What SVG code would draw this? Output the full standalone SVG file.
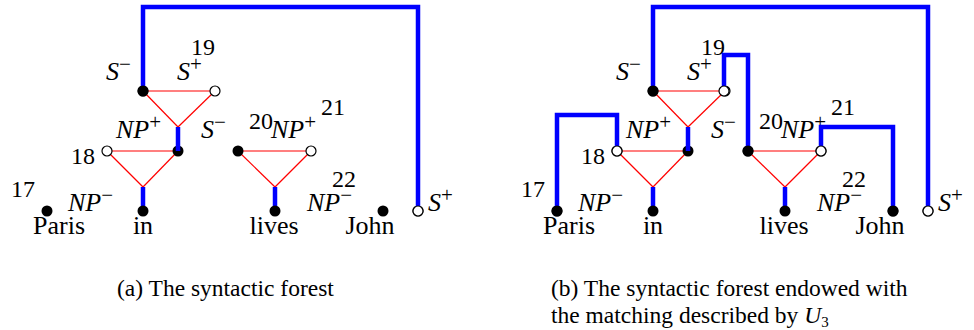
<svg xmlns="http://www.w3.org/2000/svg" width="974" height="330" viewBox="0 0 974 330">
<style>
.bg{fill:#fff}
.red{stroke:#ff0000;stroke-width:1.2;fill:none}
.blue{stroke:#0000ff;stroke-width:4.5;fill:none;stroke-linejoin:miter;stroke-linecap:butt}
.f{fill:#000}
.o{fill:#fff;stroke:#000;stroke-width:1.2}
text{font-family:"Liberation Serif","Times New Roman",serif;fill:#000}
.w{font-size:26px}
.n{font-size:24px}
.i{font-size:26px;font-style:italic}
.sup{font-size:21px;font-style:normal}
.cap{font-size:23.5px}
</style>
<rect class="bg" x="0" y="0" width="974" height="330"/>
<defs>
<g id="forest">
  <g id="t-in">
    <line class="red" x1="107" y1="151" x2="178" y2="151"/>
    <line class="red" x1="107" y1="151" x2="143" y2="187"/>
    <line class="red" x1="178" y1="151" x2="143" y2="187"/>
    <line class="blue" x1="143" y1="187" x2="143" y2="211"/>
    <circle class="o" cx="107" cy="151" r="5"/>
    <circle class="f" cx="178" cy="151" r="5.5"/>
    <circle class="f" cx="143" cy="211" r="5.5"/>
  </g>
  <g id="t-top">
    <line class="red" x1="143" y1="91" x2="215" y2="91"/>
    <line class="red" x1="143" y1="91" x2="178" y2="127"/>
    <line class="red" x1="215" y1="91" x2="178" y2="127"/>
    <line class="blue" x1="178" y1="127" x2="178" y2="151"/>
    <circle class="f" cx="143" cy="91" r="5.5"/>
    <circle class="o" cx="215" cy="91" r="5"/>
  </g>
  <g id="t-lives">
    <line class="red" x1="238" y1="151" x2="311" y2="151"/>
    <line class="red" x1="238" y1="151" x2="275" y2="187"/>
    <line class="red" x1="311" y1="151" x2="275" y2="187"/>
    <line class="blue" x1="275" y1="187" x2="275" y2="211"/>
    <circle class="f" cx="238" cy="151" r="5.5"/>
    <circle class="o" cx="311" cy="151" r="5"/>
    <circle class="f" cx="275" cy="211" r="5.5"/>
  </g>
  <circle class="f" cx="47" cy="211" r="5.5"/>
  <circle class="f" cx="383" cy="211" r="5.5"/>
  <circle class="o" cx="418" cy="211" r="5"/>
  <text class="n" x="11" y="197">17</text>
  <text class="w" x="33" y="234">Paris</text>
  <text class="w" x="143" y="234" text-anchor="middle">in</text>
  <text class="w" x="274" y="234" text-anchor="middle">lives</text>
  <text class="w" x="370" y="234" text-anchor="middle">John</text>
  <text class="i" x="68" y="211">NP<tspan class="sup" dy="-9">−</tspan></text>
  <text class="n" x="71" y="164">18</text>
  <text class="i" x="116" y="138">NP<tspan class="sup" dy="-9">+</tspan></text>
  <text class="i" x="106" y="80">S<tspan class="sup" dy="-9">−</tspan></text>
  <text class="n" x="191" y="55">19</text>
  <text class="i" x="177" y="80">S<tspan class="sup" dy="-9">+</tspan></text>
  <text class="i" x="201" y="138">S<tspan class="sup" dy="-9">−</tspan></text>
  <text class="n" x="249" y="129">20</text>
  <text class="i" x="271" y="138">NP<tspan class="sup" dy="-9">+</tspan></text>
  <text class="n" x="321" y="115">21</text>
  <text class="n" x="332" y="187">22</text>
  <text class="i" x="307" y="211">NP<tspan class="sup" dy="-9">−</tspan></text>
  <text class="i" x="428" y="211">S<tspan class="sup" dy="-9">+</tspan></text>
</g>
</defs>
<g id="panel-a">
  <use href="#forest"/>
</g>
<g id="panel-b" transform="translate(510,0)">
  <use href="#forest"/>
</g>
<g id="connectors">
  <polyline class="blue" points="143,91 143,7 418,7 418,206"/>
  <polyline class="blue" points="653,91 653,7 928,7 928,206"/>
  <polyline class="blue" points="557,211 557,115 617,115 617,146"/>
  <polyline class="blue" points="724,86 724,55 748,55 748,151"/>
  <polyline class="blue" points="821,146 821,127 893,127 893,211"/>
</g>
<g id="redraw-nodes">
  <circle class="f" cx="143" cy="91" r="5.5"/>
  <circle class="o" cx="418" cy="211" r="5"/>
  <circle class="f" cx="653" cy="91" r="5.5"/>
  <circle class="o" cx="928" cy="211" r="5"/>
  <circle class="f" cx="557" cy="211" r="5.5"/>
  <circle class="o" cx="617" cy="151" r="5"/>
  <circle class="o" cx="724" cy="91" r="5"/>
  <circle class="f" cx="748" cy="151" r="5.5"/>
  <circle class="o" cx="821" cy="151" r="5"/>
  <circle class="f" cx="893" cy="211" r="5.5"/>
</g>
<g id="captions">
  <text class="cap" x="117" y="296">(a) The syntactic forest</text>
  <text class="cap" x="551" y="296">(b) The syntactic forest endowed with</text>
  <text class="cap" x="551" y="323">the matching described by <tspan font-style="italic">U</tspan><tspan font-size="15" dy="4">3</tspan></text>
</g>
</svg>
